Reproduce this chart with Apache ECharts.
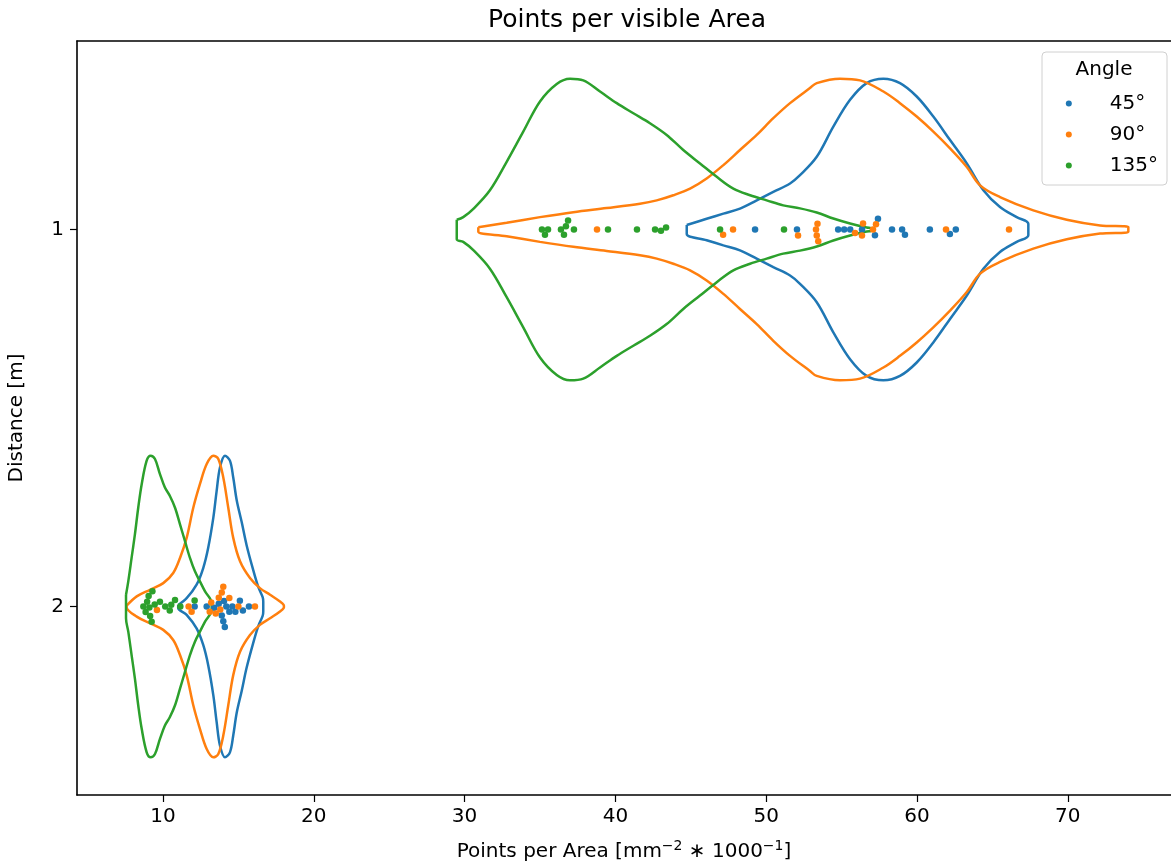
<!DOCTYPE html>
<html>
<head>
<meta charset="utf-8">
<script src="https://cdn.jsdelivr.net/npm/echarts@6/dist/echarts.min.js"></script>
<style>html,body{margin:0;padding:0;background:#fff}#c{width:1171px;height:868px}</style>
</head>
<body>
<div id="c"></div>
<script>
// ---------------- DATA ----------------
const distances = [1, 2];                 // Distance [m] categories
const angles = ['45°', '90°', '135°'];    // hue levels
const xTicks = [10, 20, 30, 40, 50, 60, 70];
const yTicks = [1, 2];

// Violin outlines: x positions and relative half-widths (density scaled to max 1)
// Distance 1
const d1_45_x = [44.73, 46.05, 47.16, 48.26, 49.37, 50.47, 51.58, 52.24, 53.35, 54.45, 55.56, 56.66, 57.77, 58.87, 59.98, 61.08, 62.19, 63.30, 64.40, 65.50, 66.61, 67.38];
const d1_45_w = [0.030, 0.071, 0.105, 0.138, 0.193, 0.249, 0.305, 0.360, 0.482, 0.682, 0.860, 0.971, 1.000, 0.971, 0.882, 0.749, 0.593, 0.438, 0.260, 0.149, 0.082, 0.038];
const d1_90_x = [30.91, 32.79, 35.00, 37.21, 39.42, 41.63, 42.74, 43.84, 44.95, 46.05, 47.16, 48.26, 49.37, 50.47, 51.58, 52.90, 53.35, 54.89, 56.22, 57.77, 58.87, 59.98, 61.08, 62.19, 63.30, 64.18, 65.50, 67.71, 69.93, 72.14, 74.01];
const d1_90_w = [0.015, 0.045, 0.082, 0.115, 0.142, 0.171, 0.193, 0.227, 0.271, 0.338, 0.427, 0.527, 0.627, 0.738, 0.838, 0.938, 0.971, 1.000, 0.989, 0.915, 0.838, 0.749, 0.649, 0.538, 0.415, 0.293, 0.215, 0.127, 0.065, 0.027, 0.015];
const d1_135_x = [29.48, 29.91, 30.58, 31.68, 32.79, 33.89, 35.00, 36.11, 36.99, 37.87, 38.98, 40.09, 41.19, 42.29, 43.40, 44.50, 45.61, 46.72, 47.82, 48.93, 50.03, 51.13, 52.24, 53.35, 54.45, 55.56, 56.66, 56.95];
const d1_135_w = [0.065, 0.082, 0.137, 0.260, 0.449, 0.649, 0.849, 0.965, 1.000, 0.989, 0.915, 0.838, 0.771, 0.705, 0.627, 0.527, 0.438, 0.349, 0.271, 0.227, 0.193, 0.160, 0.140, 0.113, 0.073, 0.040, 0.013, 0.010];
// Distance 2
const d2_45_x = [11.01, 11.57, 12.23, 12.67, 13.00, 13.34, 13.56, 13.78, 14.11, 14.44, 14.66, 14.89, 15.22, 15.55, 15.99, 16.32, 16.61, 16.65];
const d2_45_w = [0.010, 0.055, 0.145, 0.255, 0.389, 0.589, 0.767, 0.922, 1.000, 0.967, 0.855, 0.705, 0.560, 0.405, 0.240, 0.130, 0.062, 0.033];
const d2_90_x = [7.59, 8.26, 9.14, 10.02, 10.68, 11.13, 11.57, 12.01, 12.45, 12.90, 13.34, 13.67, 14.00, 14.33, 14.66, 15.11, 15.77, 16.43, 17.10, 17.76, 18.02];
const d2_90_w = [0.005, 0.067, 0.111, 0.155, 0.222, 0.322, 0.455, 0.655, 0.811, 0.945, 1.000, 0.978, 0.855, 0.655, 0.455, 0.300, 0.189, 0.122, 0.078, 0.033, 0.005];
const d2_135_x = [7.55, 7.70, 7.92, 8.14, 8.36, 8.59, 8.92, 9.18, 9.47, 9.80, 10.13, 10.46, 10.80, 11.13, 11.46, 11.79, 12.12, 12.45, 12.79, 13.23];
const d2_135_w = [0.078, 0.167, 0.322, 0.478, 0.655, 0.811, 0.967, 1.000, 0.978, 0.878, 0.789, 0.733, 0.655, 0.545, 0.433, 0.322, 0.233, 0.167, 0.100, 0.022];

// Observations (points per area)
const d1_45_pts = [49.26, 52.04, 54.77, 55.17, 55.57, 56.35, 57.21, 57.41, 58.34, 59.01, 59.20, 60.85, 62.18, 62.57];
const d1_90_pts = [38.78, 47.14, 47.80, 52.11, 53.30, 53.35, 53.40, 53.45, 55.89, 56.35, 56.42, 57.08, 57.28, 61.92, 66.10];
const d1_135_pts = [35.13, 35.33, 35.53, 36.39, 36.59, 36.72, 36.86, 37.25, 39.51, 41.43, 42.63, 43.02, 43.36, 46.94, 51.18];
const d2_45_pts = [12.10, 12.90, 13.40, 13.70, 13.90, 14.00, 14.05, 14.10, 14.20, 14.40, 14.60, 14.80, 15.10, 15.30, 15.70];
const d2_90_pts = [9.60, 11.70, 11.90, 13.10, 13.20, 13.50, 13.70, 13.80, 13.90, 14.00, 14.40, 15.00, 16.10];
const d2_135_pts = [8.70, 8.85, 8.95, 9.05, 9.10, 9.15, 9.25, 9.30, 9.45, 9.80, 10.15, 10.45, 10.55, 10.80, 11.15, 12.10];

// ---------------- CHART ----------------
const colors = ['#1f77b4', '#ff7f0e', '#2ca02c'];
const FONT = 'DejaVu Sans';
const HALF = 0.4;
const XMIN = 4.3, XMAX = 76.84;
const violins = [
  [[d1_45_x, d1_45_w], [d1_90_x, d1_90_w], [d1_135_x, d1_135_w]],
  [[d2_45_x, d2_45_w], [d2_90_x, d2_90_w], [d2_135_x, d2_135_w]]
];
const points = [
  [d1_45_pts, d1_90_pts, d1_135_pts],
  [d2_45_pts, d2_90_pts, d2_135_pts]
];

function violinPath(center, xs, ws) {
  const pts = [];
  for (let i = 0; i < xs.length; i++) pts.push([xs[i], center - HALF * ws[i]]);
  for (let i = xs.length - 1; i >= 0; i--) pts.push([xs[i], center + HALF * ws[i]]);
  pts.push(pts[0]);
  return pts;
}

const series = [];
distances.forEach((d, di) => {
  angles.forEach((a, hi) => {
    const [xs, ws] = violins[di][hi];
    series.push({
      type: 'line', name: 'violin-' + d + '-' + a, data: violinPath(d, xs, ws),
      smooth: 0.35, symbol: 'none', silent: true, z: 2,
      lineStyle: { color: colors[hi], width: 2.5 }
    });
  });
});
angles.forEach((a, hi) => {
  series.push({
    type: 'scatter', name: a, data: [], symbol: 'circle', symbolSize: 6.5, z: 5,
    itemStyle: { color: colors[hi], opacity: 1 }
  });
});

const chart = echarts.init(document.getElementById('c'), null, { renderer: 'canvas' });
chart.setOption({
  animation: false,
  backgroundColor: '#fff',
  title: {
    text: 'Points per visible Area', left: 622, top: 3, textAlign: 'center',
    textStyle: { fontFamily: FONT, fontSize: 25, fontWeight: 'normal', color: '#000' }
  },
  grid: { left: 77, right: 0, top: 41, bottom: 73, show: false, containLabel: false, outerBoundsMode: 'none' },
  xAxis: [{
    type: 'value', min: XMIN, max: XMAX, position: 'bottom',
    axisLine: { show: true, onZero: false, lineStyle: { color: '#000', width: 1.6 } },
    axisTick: { show: true, customValues: xTicks, length: 7, lineStyle: { color: '#000', width: 1.2 } },
    axisLabel: { customValues: xTicks, fontSize: 20, color: '#000', fontFamily: FONT, margin: 12 },
    splitLine: { show: false },
    name: 'Points per Area [mm{sup|−2} ∗ 1000{sup|−1}]', nameLocation: 'middle', nameGap: 44,
    nameTextStyle: {
      fontSize: 20, color: '#000', fontFamily: FONT, lineHeight: 26,
      rich: { sup: { fontSize: 14, fontFamily: FONT, color: '#000', verticalAlign: 'top', lineHeight: 26, padding: [0, 0, 8, 0] } }
    }
  }, {
    type: 'value', min: XMIN, max: XMAX, position: 'top',
    axisLine: { show: true, onZero: false, lineStyle: { color: '#000', width: 1.6 } },
    axisTick: { show: false }, axisLabel: { show: false }, splitLine: { show: false }
  }],
  yAxis: {
    type: 'value', inverse: true, min: 0.5, max: 2.5,
    axisLine: { show: true, onZero: false, lineStyle: { color: '#000', width: 1.6 } },
    axisTick: { show: true, customValues: yTicks, length: 7, lineStyle: { color: '#000', width: 1.2 } },
    axisLabel: { customValues: yTicks, fontSize: 20, color: '#000', fontFamily: FONT, margin: 13 },
    splitLine: { show: false },
    name: 'Distance [m]', nameLocation: 'middle', nameGap: 50, nameRotate: 90,
    nameTextStyle: { fontSize: 20, color: '#000', fontFamily: FONT }
  },
  legend: {
    orient: 'vertical', right: 13, top: 92, itemWidth: 72, itemHeight: 6, itemGap: 8, align: 'left',
    icon: 'circle', selectedMode: false, data: angles, z: 20, padding: 0,
    textStyle: { fontSize: 20, color: '#000', fontFamily: FONT, lineHeight: 23 }
  },
  graphic: [
    { type: 'rect', z: 15, shape: { x: 1042, y: 52, width: 125, height: 133, r: 4 },
      style: { fill: 'rgba(255,255,255,0.8)', stroke: '#d0d0d0', lineWidth: 1 } },
    { type: 'text', z: 16, x: 1104, y: 70,
      style: { text: 'Angle', font: '20px "DejaVu Sans"', fill: '#000', align: 'center', verticalAlign: 'middle' } }
  ],
  series: series
});

// Beeswarm placement of points (combined over hues within each distance)
const p10 = chart.convertToPixel({ gridIndex: 0 }, [10, 1]);
const p20 = chart.convertToPixel({ gridIndex: 0 }, [20, 2]);
const sx = (p20[0] - p10[0]) / 10;
const sy = (p20[1] - p10[1]);
const DIAM = 6;
const swarmData = angles.map(() => []);
distances.forEach((d, di) => {
  const all = [];
  angles.forEach((a, hi) => points[di][hi].forEach(v => all.push({ v, hi, px: v * sx })));
  all.sort((a, b) => a.px - b.px);
  const placed = [];
  for (const p of all) {
    const near = placed.filter(q => Math.abs(q.px - p.px) < DIAM);
    const cands = [0];
    for (const q of near) {
      const dx = p.px - q.px;
      const dy = Math.sqrt(DIAM * DIAM - dx * dx);
      cands.push(q.off + dy, q.off - dy);
    }
    cands.sort((a, b) => Math.abs(a) - Math.abs(b));
    let chosen = 0;
    for (const c of cands) {
      if (near.every(q => (q.px - p.px) ** 2 + (q.off - c) ** 2 >= DIAM * DIAM - 1e-6)) { chosen = c; break; }
    }
    p.off = chosen;
    placed.push(p);
    swarmData[p.hi].push([p.v, d + chosen / sy]);
  }
});
chart.setOption({ series: angles.map((a, hi) => ({ name: a, data: swarmData[hi] })) });
</script>
</body>
</html>
